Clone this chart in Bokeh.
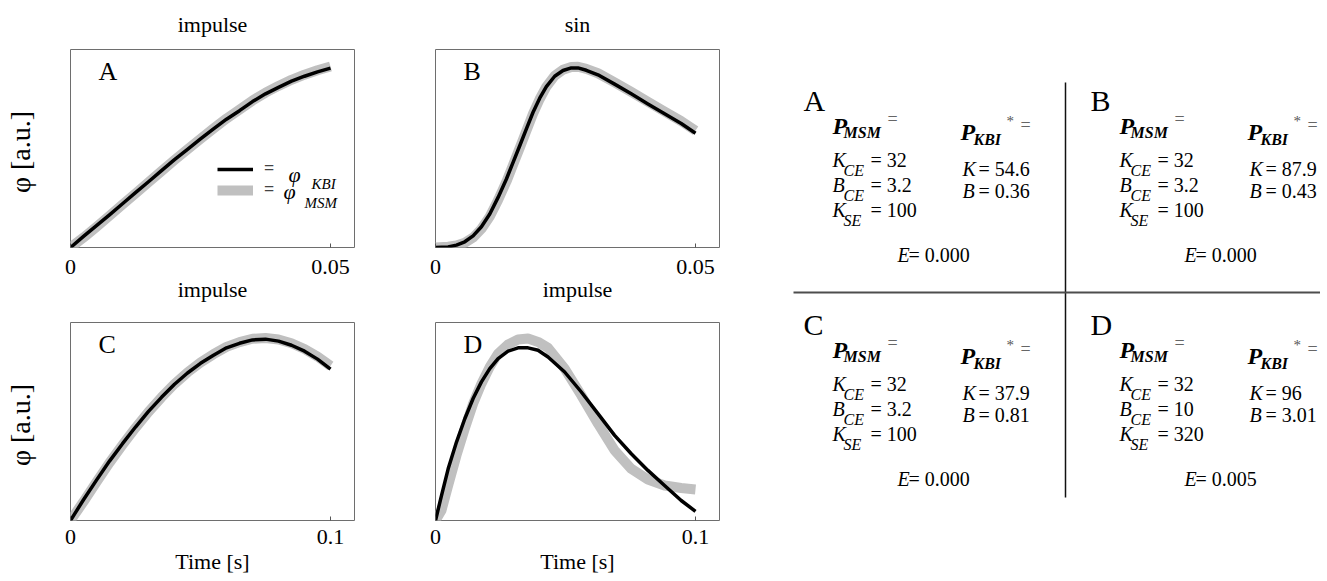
import math
from bokeh.plotting import figure
from bokeh.models import (Range1d, FixedTicker, Label, Legend, LegendItem, ColumnDataSource,
                          Title)
from bokeh.layouts import row, column
from bokeh.embed import file_html
from bokeh.resources import INLINE
from bokeh.core.properties import value

FONT = "Liberation Serif"
MID = 0.3375  # em offset from alphabetic baseline to em-box middle

# ---------------- data ----------------
tA = [0.0, 0.0025, 0.005, 0.0075, 0.01, 0.0125, 0.015, 0.0175, 0.02, 0.0225, 0.025,
      0.0275, 0.03, 0.0325, 0.035, 0.0375, 0.04, 0.0425, 0.045, 0.0475, 0.05]
phiA_kbi = [0, 0.056, 0.110, 0.165, 0.221, 0.277, 0.332, 0.388, 0.444, 0.496, 0.548,
            0.599, 0.648, 0.691, 0.737, 0.776, 0.809, 0.840, 0.865, 0.887, 0.906]
phiA_msm = [0, 0.050, 0.104, 0.160, 0.217, 0.273, 0.330, 0.386, 0.442, 0.496, 0.549,
            0.601, 0.651, 0.696, 0.742, 0.782, 0.816, 0.847, 0.873, 0.895, 0.914]

tB = [0.0, 0.00243, 0.00403, 0.00563, 0.00723, 0.00883, 0.01044, 0.01204, 0.01364,
      0.01492, 0.0162, 0.01748, 0.01876, 0.02004, 0.02132, 0.02292, 0.02452, 0.02612,
      0.0274, 0.029, 0.03124, 0.03444, 0.03764, 0.04085, 0.04405, 0.04725, 0.05]
phiB_kbi = [0, 0.003, 0.012, 0.029, 0.059, 0.105, 0.169, 0.253, 0.346, 0.430, 0.514,
            0.599, 0.683, 0.754, 0.813, 0.865, 0.894, 0.907, 0.907, 0.895, 0.872, 0.825,
            0.776, 0.725, 0.675, 0.626, 0.577]
phiB_msm = [0, 0.004, 0.010, 0.024, 0.050, 0.094, 0.157, 0.240, 0.333, 0.418, 0.503,
            0.590, 0.676, 0.750, 0.812, 0.867, 0.898, 0.912, 0.913, 0.902, 0.880, 0.834,
            0.786, 0.736, 0.687, 0.638, 0.590]

tC = [0.0, 0.005, 0.01, 0.015, 0.02, 0.025, 0.03, 0.035, 0.04, 0.045, 0.05,
      0.055, 0.06, 0.065, 0.07, 0.075, 0.08, 0.085, 0.09, 0.095, 0.1]
phiC_kbi = [0, 0.105, 0.204, 0.300, 0.388, 0.472, 0.551, 0.622, 0.688, 0.745, 0.794,
            0.835, 0.872, 0.895, 0.912, 0.916, 0.906, 0.885, 0.855, 0.815, 0.764]
phiC_msm = [0, 0.095, 0.195, 0.292, 0.382, 0.468, 0.549, 0.622, 0.690, 0.748, 0.798,
            0.840, 0.877, 0.901, 0.918, 0.922, 0.914, 0.895, 0.866, 0.828, 0.781]

tD = [0.0, 0.0023, 0.00487, 0.00807, 0.01127, 0.01447, 0.01767, 0.02087, 0.02407,
      0.02791, 0.03175, 0.03559, 0.03944, 0.04328, 0.04968, 0.05608, 0.06248, 0.06889,
      0.07529, 0.08169, 0.08809, 0.09449, 0.1]
phiD_kbi = [0, 0.126, 0.261, 0.396, 0.514, 0.616, 0.700, 0.767, 0.818, 0.855, 0.872,
            0.872, 0.860, 0.826, 0.750, 0.649, 0.540, 0.430, 0.337, 0.253, 0.177, 0.101,
            0.046]
phiD_msm = [0, 0.051, 0.177, 0.329, 0.464, 0.590, 0.691, 0.776, 0.843, 0.889, 0.914,
            0.919, 0.902, 0.872, 0.767, 0.632, 0.489, 0.354, 0.261, 0.207, 0.177, 0.164,
            0.157]

panel_letters = ["A", "B", "C", "D"]
panel_titles = ["impulse", "sin", "impulse", "impulse"]
xticks_short = [0, 0.05]
xtick_labels_short = ["0", "0.05"]
xticks_long = [0, 0.1]
xtick_labels_long = ["0", "0.1"]
y_label = "φ  [a.u.]"
x_label = "Time [s]"

K_CE = [32, 32, 32, 32]
B_CE = [3.2, 3.2, 3.2, 10]
K_SE = [100, 100, 100, 320]
K_KBI = [54.6, 87.9, 37.9, 96]
B_KBI = [0.36, 0.43, 0.81, 3.01]
E_err = [0.000, 0.000, 0.000, 0.005]

BLACK = "#000000"
GRAY = "#c0c0c0"


# ---------------- helpers ----------------
def ref_to_data(geom, xmax, X, Y):
    L, T, W, H = geom
    return (X - L) / W * xmax, (T + H - Y) / H


def add_label(p, geom, xmax, X, Ybase, text, size, style="normal"):
    """Place text whose alphabetic baseline sits at reference pixel Ybase."""
    x, y = ref_to_data(geom, xmax, X, Ybase - MID * size)
    p.add_layout(Label(x=x, y=y, text=text, text_font=FONT, text_font_size=f"{size}px",
                       text_font_style=style, text_align="left", text_baseline="middle",
                       text_color="black"))


def make_title(text, standoff):
    return Title(text=text, align="center", vertical_align="top", standoff=standoff,
                 text_font=FONT, text_font_style="normal", text_font_size="22px",
                 text_color="black")


def make_panel(width, height, bl, br, bt, bb, geom, xmax, ticks, tick_labels,
               t, kbi, msm, letter, tick_standoff, xlabel=None, ylabel=None):
    p = figure(width=width, height=height, x_range=Range1d(0, xmax), y_range=Range1d(0, 1),
               output_backend="svg", toolbar_location=None,
               y_axis_location="left" if ylabel else None,
               min_border_left=bl, min_border_right=br, min_border_top=bt,
               min_border_bottom=bb)
    p.grid.visible = False
    p.outline_line_color = "#6e6e6e"
    p.outline_line_width = 1
    p.background_fill_color = "white"
    p.border_fill_color = "white"

    ax = p.xaxis[0]
    ax.ticker = FixedTicker(ticks=ticks)
    ax.major_label_overrides = {tk: lb for tk, lb in zip(ticks, tick_labels)}
    ax.axis_line_color = None
    ax.major_tick_in = 4
    ax.major_tick_out = 0
    ax.major_tick_line_color = "#555555"
    ax.minor_tick_line_color = None
    ax.major_label_text_font = FONT
    ax.major_label_text_font_size = "22px"
    ax.major_label_text_color = "black"
    ax.major_label_standoff = tick_standoff
    if xlabel:
        ax.axis_label = xlabel
        ax.axis_label_text_font = FONT
        ax.axis_label_text_font_style = "normal"
        ax.axis_label_text_font_size = "22px"
        ax.axis_label_text_color = "black"
        ax.axis_label_standoff = 2

    if ylabel:
        ay = p.yaxis[0]
        ay.ticker = FixedTicker(ticks=[])
        ay.axis_line_color = None
        ay.major_tick_in = 0
        ay.major_tick_out = 0
        ay.minor_tick_line_color = None
        ay.axis_label = ylabel
        ay.axis_label_text_font = FONT
        ay.axis_label_text_font_style = "normal"
        ay.axis_label_text_font_size = "28px"
        ay.axis_label_text_color = "black"
        ay.axis_label_standoff = 35

    src = ColumnDataSource(dict(t=t, kbi=kbi, msm=msm))
    rm = p.line("t", "msm", source=src, line_color=GRAY, line_width=10, line_join="round")
    rk = p.line("t", "kbi", source=src, line_color=BLACK, line_width=3.5, line_join="round")

    L, T, W, H = geom
    add_label(p, geom, xmax, L + 28, T + 31, letter, 26)
    return p, rk, rm


short_xmax = 0.05 * 284 / 260
long_xmax = 0.1 * 284 / 260

geomA = (70, 49, 284, 198)
geomB = (435, 49, 284, 198)
geomC = (70, 322, 284, 198)
geomD = (435, 322, 284, 198)

TOP_H = 322
BOT_H = 258

pA, rkA, rmA = make_panel(380, TOP_H, 70, 26, 49, TOP_H - 247, geomA, short_xmax,
                          xticks_short, xtick_labels_short, tA, phiA_kbi, phiA_msm,
                          panel_letters[0], 12, ylabel=y_label)
pB, _, _ = make_panel(380, TOP_H, 55, 41, 49, TOP_H - 247, geomB, short_xmax,
                      xticks_short, xtick_labels_short, tB, phiB_kbi, phiB_msm,
                      panel_letters[1], 12)
pC, _, _ = make_panel(380, BOT_H, 70, 26, 0, BOT_H - 198, geomC, long_xmax,
                      xticks_long, xtick_labels_long, tC, phiC_kbi, phiC_msm,
                      panel_letters[2], 9, xlabel=x_label, ylabel=y_label)
pD, _, _ = make_panel(380, BOT_H, 55, 41, 0, BOT_H - 198, geomD, long_xmax,
                      xticks_long, xtick_labels_long, tD, phiD_kbi, phiD_msm,
                      panel_letters[3], 9, xlabel=x_label)

# panel titles: A/B above their frames; the C/D titles sit in the gap below A/B
pA.add_layout(make_title(panel_titles[0], 21), "above")
pB.add_layout(make_title(panel_titles[1], 21), "above")
pA.add_layout(make_title(panel_titles[2], 0), "below")
pB.add_layout(make_title(panel_titles[3], 0), "below")

# legend in A
legend = Legend(items=[LegendItem(label="=", renderers=[rkA]),
                       LegendItem(label="=", renderers=[rmA])],
                location=(147, 47), orientation="vertical", glyph_width=36, glyph_height=20,
                label_height=20, label_standoff=11, spacing=0, padding=0, margin=0,
                border_line_color=None, background_fill_alpha=0,
                label_text_font=FONT, label_text_font_size="18px",
                label_text_font_style="bold")
pA.add_layout(legend)
add_label(pA, geomA, short_xmax, 288, 181, "φ", 22, style="italic")
add_label(pA, geomA, short_xmax, 311, 189, "KBI", 15, style="italic")
add_label(pA, geomA, short_xmax, 283, 198, "φ", 22, style="italic")
add_label(pA, geomA, short_xmax, 304, 208, "MSM", 15, style="italic")

# ---------------- parameter table ----------------
TW, TH = 560, 578
pT = figure(width=TW, height=TH, x_range=Range1d(0, TW), y_range=Range1d(0, TH),
            x_axis_location=None, y_axis_location=None, min_border=0,
            toolbar_location=None, output_backend="svg")
pT.grid.visible = False
pT.outline_line_color = None
pT.background_fill_color = "white"
pT.border_fill_color = "white"


def tx(X):
    return X - 760


def ty(Y):
    return TH - Y


pT.segment(x0=[tx(1065)], y0=[ty(82)], x1=[tx(1065)], y1=[ty(497)],
           line_color="#111111", line_width=1.5)
pT.segment(x0=[tx(793)], y0=[ty(292)], x1=[tx(1327)], y1=[ty(292)],
           line_color="#4d4d4d", line_width=2)

q_dx = [0, 287, 0, 287]
q_dy = [0, 0, 224, 224]
items = []
for i in range(4):
    ox, oy = q_dx[i], q_dy[i]
    items.append((803 + ox, 110 + oy, panel_letters[i], 30, "normal", "#000000"))
    items.append((832 + ox, 134 + oy, "P", 24, "bold italic", "#000000"))
    items.append((843 + ox, 137 + oy, "MSM", 16, "bold italic", "#000000"))
    items.append((887 + ox, 125 + oy, "=", 18, "normal", "#666666"))
    items.append((960 + ox, 140 + oy, "P", 24, "bold italic", "#000000"))
    items.append((973 + ox, 144 + oy, "KBI", 16, "bold italic", "#000000"))
    items.append((1006 + ox, 126 + oy, "*", 15, "normal", "#555555"))
    items.append((1020 + ox, 131 + oy, "=", 18, "normal", "#666666"))
    rows = [("K", "CE", K_CE[i]), ("B", "CE", B_CE[i]), ("K", "SE", K_SE[i])]
    for j, (sym, sub, val) in enumerate(rows):
        b = 166 + 25 * j + oy
        items.append((832 + ox, b, sym, 20, "italic", "#000000"))
        items.append((843 + ox, b + 9, sub, 16, "italic", "#000000"))
        items.append((870 + ox, b, f"= {val:g}", 20, "normal", "#000000"))
    for j, (sym, val) in enumerate([("K", K_KBI[i]), ("B", B_KBI[i])]):
        b = 175 + 22 * j + oy
        items.append((962 + ox, b, sym, 20, "italic", "#000000"))
        items.append((978 + ox, b, f"= {val:g}", 20, "normal", "#000000"))
    items.append((897 + ox, 261 + oy, "E", 20, "italic", "#000000"))
    items.append((908 + ox, 261 + oy, f"= {E_err[i]:.3f}", 20, "normal", "#000000"))

groups = {}
for X, Y, txt, size, style, color in items:
    groups.setdefault((size, style, color), []).append((tx(X), ty(Y - MID * size), txt))
for (size, style, color), lst in groups.items():
    src = ColumnDataSource(dict(x=[a[0] for a in lst], y=[a[1] for a in lst],
                                text=[a[2] for a in lst]))
    pT.text(x="x", y="y", text="text", source=src, text_font=value(FONT),
            text_font_size=value(f"{size}px"), text_font_style=value(style),
            text_color=value(color), text_align=value("left"),
            text_baseline=value("middle"))

layout = row(column(row(pA, pB), row(pC, pD)), pT)

with open("out.html", "w") as f:
    f.write(file_html(layout, INLINE))
